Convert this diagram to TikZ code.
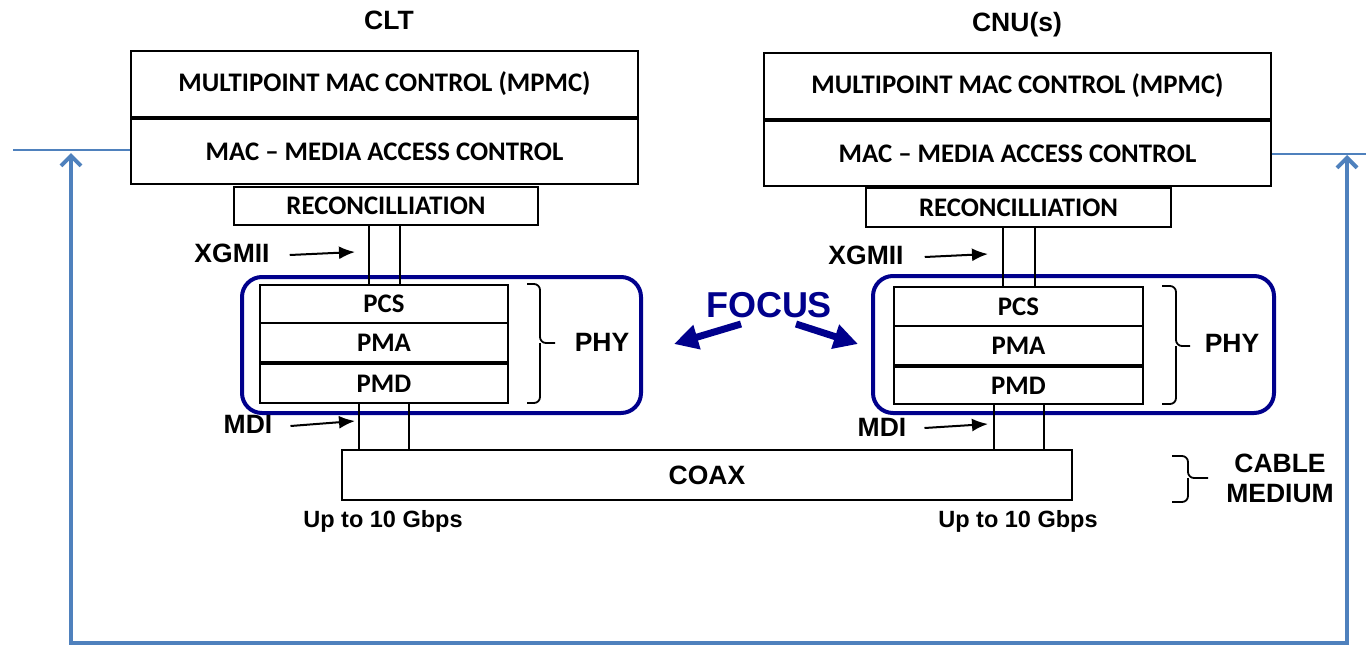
\documentclass[tikz,border=0pt]{standalone}
\usepackage{fontspec}
\setmainfont{Liberation Sans}
\newfontfamily\calfont{Carlito}
\usetikzlibrary{arrows.meta,calc}
\definecolor{navy}{RGB}{0,0,140}
\definecolor{officeblue}{RGB}{79,129,189}
\tikzset{
  layer/.style={draw=black, line width=2pt, inner sep=0pt, font=\calfont\bfseries\fontsize{26.8}{28}\selectfont},
  lbl/.style={inner sep=0pt, font=\bfseries\fontsize{26.5}{30}\selectfont},
  rate/.style={inner sep=0pt, font=\bfseries\fontsize{23.5}{26}\selectfont},
  phybox/.style={draw=navy, line width=4pt, rounded corners=20pt},
  iface/.style={draw=black, line width=1.5pt},
  ptr/.style={draw=black, line width=2pt, -{Latex[length=16pt,width=13pt]}},
  focusarrow/.style={draw=navy, line width=7pt, -{Triangle[length=24pt,width=24pt]}},
  brk/.style={draw=black, line width=1.8pt, rounded corners=6pt},
  blueline/.style={draw=officeblue, line width=2pt},
  loop/.style={draw=officeblue, line width=4pt, {Straight Barb[length=10pt,width=20pt]}-{Straight Barb[length=10pt,width=20pt]}}
}
\begin{document}
\begin{tikzpicture}[x=1pt,y=-1pt]
\useasboundingbox (0,0) rectangle (1366,646);
% titles
\node[lbl] (clt) at (389,20) {CLT};
\node[lbl] (cnu) at (1017,25) {CNU(s)};
% left stack
\node[layer, minimum width=507pt, minimum height=66pt] (mpmcL) at (384.5,84) {MULTIPOINT MAC CONTROL (MPMC)};
\node[layer, minimum width=507pt, minimum height=65pt] (macL) at (384.5,151.5) {MAC – MEDIA ACCESS CONTROL};
\node[layer, minimum width=304pt, minimum height=38pt] (recL) at (386,206) {RECONCILLIATION};
\node[layer, minimum width=248pt, minimum height=38pt] (pcsL) at (384,304) {PCS};
\node[layer, minimum width=248pt, minimum height=39pt] (pmaL) at (384,342.5) {PMA};
\node[layer, minimum width=248pt, minimum height=39pt] (pmdL) at (384,383.5) {PMD};
% right stack
\node[layer, minimum width=507pt, minimum height=66pt] (mpmcR) at (1017.5,86) {MULTIPOINT MAC CONTROL (MPMC)};
\node[layer, minimum width=507pt, minimum height=65pt] (macR) at (1017.5,153.5) {MAC – MEDIA ACCESS CONTROL};
\node[layer, minimum width=305pt, minimum height=39pt] (recR) at (1018.5,207.5) {RECONCILLIATION};
\node[layer, minimum width=249pt, minimum height=39pt] (pcsR) at (1018.5,306.5) {PCS};
\node[layer, minimum width=249pt, minimum height=39pt] (pmaR) at (1018.5,345.5) {PMA};
\node[layer, minimum width=249pt, minimum height=37pt] (pmdR) at (1018.5,385.5) {PMD};
% coax
\node[layer, font=\bfseries\fontsize{26.5}{30}\selectfont, minimum width=730pt, minimum height=50pt] (coax) at (707,475) {COAX};
% PHY focus boxes
\draw[phybox] (242,277) rectangle (641,413);
\draw[phybox] (873,276) rectangle (1274,413);
% interface lines
\draw[iface] ([xshift=-17pt]recL.south) -- ([xshift=-17pt]recL.south |- pcsL.north);
\draw[iface] ([xshift=14pt]recL.south) -- ([xshift=14pt]recL.south |- pcsL.north);
\draw[iface] ([xshift=-25pt]pmdL.south) -- ([xshift=-25pt]pmdL.south |- coax.north);
\draw[iface] ([xshift=25pt]pmdL.south) -- ([xshift=25pt]pmdL.south |- coax.north);
\draw[iface] ([xshift=-15.5pt]recR.south) -- ([xshift=-15.5pt]recR.south |- pcsR.north);
\draw[iface] ([xshift=16.5pt]recR.south) -- ([xshift=16.5pt]recR.south |- pcsR.north);
\draw[iface] ([xshift=-24.5pt]pmdR.south) -- ([xshift=-24.5pt]pmdR.south |- coax.north);
\draw[iface] ([xshift=25.5pt]pmdR.south) -- ([xshift=25.5pt]pmdR.south |- coax.north);
% interface labels
\node[lbl] (xgmiiL) at (232,253) {XGMII};
\node[lbl] (mdiL) at (248,424) {MDI};
\node[lbl] (xgmiiR) at (866,255) {XGMII};
\node[lbl] (mdiR) at (882,427) {MDI};
\coordinate (xgL) at (355,252);
\coordinate (mdL) at (355,421);
\coordinate (xgR) at (988,254);
\coordinate (mdR) at (988,424);
\draw[ptr] ([xshift=20pt,yshift=-2pt]xgmiiL.east) -- (xgL);
\draw[ptr] ([xshift=18pt,yshift=-2pt]mdiL.east) -- (mdL);
\draw[ptr] ([xshift=21pt,yshift=-2pt]xgmiiR.east) -- (xgR);
\draw[ptr] ([xshift=18pt,yshift=-1pt]mdiR.east) -- (mdR);
% PHY braces and labels
\node[lbl] (phyL) at (602,342) {PHY};
\node[lbl] (phyR) at (1232,343) {PHY};
\draw[brk] (527,284) -- (540,284) -- (540,343) -- (555,343);
\draw[brk] (527,403) -- (540,403) -- (540,343);
\draw[brk] (1162,286) -- (1176,286) -- (1176,346) -- (1190,346);
\draw[brk] (1162,404) -- (1176,404) -- (1176,346);
% FOCUS
\node[inner sep=0pt, text=navy, font=\bfseries\fontsize{36}{40}\selectfont] (focus) at (769,305) {FOCUS};
\coordinate (fl) at (674,344);
\coordinate (fr) at (858,344);
\draw[focusarrow] (741,324) -- (fl);
\draw[focusarrow] (796,324) -- (fr);
% rates
\node[rate] (rateL) at (383,521) {Up to 10 Gbps};
\node[rate] (rateR) at (1018,521) {Up to 10 Gbps};
% cable medium
\draw[brk] (1172,456) -- (1188,456) -- (1188,478) -- (1208,478);
\draw[brk] (1172,502) -- (1188,502) -- (1188,478);
\node[lbl, align=center, font=\bfseries\fontsize{26.5}{30}\selectfont] (cable) at (1280,478) {CABLE\\MEDIUM};
% blue lines
\coordinate (bl) at (13,150);
\coordinate (br) at (1366,154);
\draw[blueline] (bl) -- (macL.west |- bl);
\draw[blueline] (macR.east |- br) -- (br);
\coordinate (la) at (71,153);
\coordinate (lb) at (71,643);
\coordinate (rb) at (1347,643);
\coordinate (ra) at (1347,155);
\draw[loop] (la) -- (lb) -- (rb) -- (ra);
\end{tikzpicture}
\end{document}
